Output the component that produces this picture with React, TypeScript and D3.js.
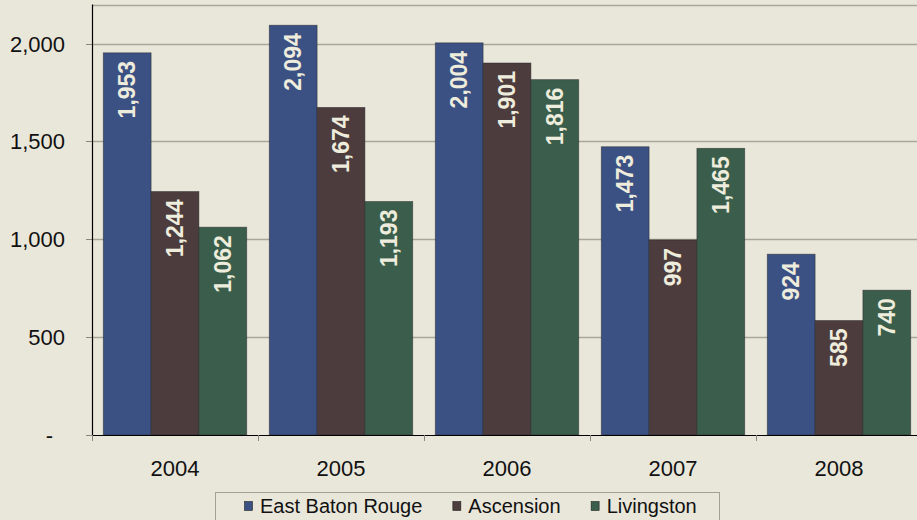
import React, { useRef, useEffect } from 'react';
import { select, scaleBand, scaleLinear, format } from 'd3';

const years = ['2004', '2005', '2006', '2007', '2008'];
const seriesNames = ['East Baton Rouge', 'Ascension', 'Livingston'];
const eastBatonRouge = [1953, 2094, 2004, 1473, 924];
const ascension = [1244, 1674, 1901, 997, 585];
const livingston = [1062, 1193, 1816, 1465, 740];
const yTicks = [0, 500, 1000, 1500, 2000];
const colors = ['#3c5183', '#4c3c3d', '#3a5e4b'];

const W = 917;
const H = 520;
const BG = '#e9e7da';
const FONT = "'Liberation Sans', Arial, sans-serif";

function App() {
  const svgRef = useRef(null);

  useEffect(() => {
    const svg = select(svgRef.current);
    svg.selectAll('*').remove();

    const left = 92;
    const top = 4.5;
    const bottom = 435;
    const catW = 166;

    const x0 = scaleBand()
      .domain(years)
      .range([left, left + catW * years.length])
      .padding(0);
    const x1 = scaleBand()
      .domain(seriesNames)
      .range([0, x0.bandwidth()])
      .paddingInner(0)
      .paddingOuter(0.236);
    const y = scaleLinear().domain([0, 2200]).range([bottom, top]);

    svg.append('rect').attr('width', W).attr('height', H).attr('fill', BG);

    // gridlines + top border
    svg
      .selectAll('.grid')
      .data(yTicks.filter((d) => d > 0).concat([2200]))
      .join('line')
      .attr('x1', left)
      .attr('x2', W)
      .attr('y1', (d) => Math.round(y(d)) + 0.5)
      .attr('y2', (d) => Math.round(y(d)) + 0.5)
      .attr('stroke', '#a8a698')
      .attr('stroke-width', 1.3);

    // y ticks
    svg
      .selectAll('.ytick')
      .data(yTicks)
      .join('line')
      .attr('x1', left - 6)
      .attr('x2', left)
      .attr('y1', (d) => Math.round(y(d)) + 0.5)
      .attr('y2', (d) => Math.round(y(d)) + 0.5)
      .attr('stroke', '#8a887e');

    svg
      .selectAll('.ylabel')
      .data(yTicks)
      .join('text')
      .attr('x', (d) => (d === 0 ? 53 : 65))
      .attr('y', (d) => y(d))
      .attr('dy', '0.36em')
      .attr('text-anchor', 'end')
      .style('font-family', FONT)
      .attr('font-size', 22)
      .attr('fill', '#111')
      .text((d) => (d === 0 ? '-' : format(',')(d)));

    const series = [eastBatonRouge, ascension, livingston];

    // bars
    const groups = svg
      .selectAll('.year')
      .data(years)
      .join('g')
      .attr('transform', (d) => `translate(${x0(d)},0)`);

    groups
      .selectAll('rect')
      .data((yr, i) => seriesNames.map((s, k) => ({ s, k, v: series[k][i] })))
      .join('rect')
      .attr('x', (d) => x1(d.s))
      .attr('y', (d) => y(d.v))
      .attr('width', x1.bandwidth())
      .attr('height', (d) => bottom - y(d.v))
      .attr('fill', (d) => colors[d.k])
      .attr('stroke', '#26262a')
      .attr('stroke-opacity', 0.6)
      .attr('stroke-width', 0.8);

    groups
      .selectAll('text')
      .data((yr, i) => seriesNames.map((s, k) => ({ s, k, v: series[k][i] })))
      .join('text')
      .attr('transform', (d) => {
        const cx = x1(d.s) + x1.bandwidth() / 2;
        const ty = y(d.v) + 8;
        return `translate(${cx},${ty}) rotate(-90)`;
      })
      .attr('text-anchor', 'end')
      .attr('dominant-baseline', 'central')
      .style('font-family', FONT)
      .attr('font-weight', 'bold')
      .attr('font-size', 23)
      .attr('fill', '#eeecdc')
      .text((d) => format(',')(d.v));

    // axes
    svg
      .append('line')
      .attr('x1', left + 0.5)
      .attr('x2', left + 0.5)
      .attr('y1', top)
      .attr('y2', bottom)
      .attr('stroke', '#000')
      .attr('stroke-width', 1.2);
    svg
      .append('line')
      .attr('x1', left)
      .attr('x2', W)
      .attr('y1', bottom + 0.5)
      .attr('y2', bottom + 0.5)
      .attr('stroke', '#000')
      .attr('stroke-width', 1.2);

    // x ticks at category boundaries
    svg
      .selectAll('.xtick')
      .data(years)
      .join('line')
      .attr('x1', (d) => Math.round(x0(d)) + 0.5)
      .attr('x2', (d) => Math.round(x0(d)) + 0.5)
      .attr('y1', bottom)
      .attr('y2', bottom + 6)
      .attr('stroke', '#8a887e');

    svg
      .selectAll('.xlabel')
      .data(years)
      .join('text')
      .attr('x', (d) => x0(d) + x0.bandwidth() / 2)
      .attr('y', 476)
      .attr('text-anchor', 'middle')
      .style('font-family', FONT)
      .attr('font-size', 22)
      .attr('fill', '#111')
      .text((d) => d);

    // legend
    const legend = svg.append('g');
    legend
      .append('rect')
      .attr('x', 215.5)
      .attr('y', 492.5)
      .attr('width', 504)
      .attr('height', 40)
      .attr('fill', BG)
      .attr('stroke', '#a3a196');

    let lx = 244;
    seriesNames.forEach((name, k) => {
      legend
        .append('rect')
        .attr('x', lx + 0.5)
        .attr('y', 501.5)
        .attr('width', 8)
        .attr('height', 9)
        .attr('fill', colors[k])
        .attr('stroke', '#222')
        .attr('stroke-width', 0.6);
      const t = legend
        .append('text')
        .attr('x', lx + 16)
        .attr('y', 513)
        .style('font-family', FONT)
        .attr('font-size', 20)
        .attr('fill', '#111')
        .text(name);
      const w = t.node().getComputedTextLength();
      lx = lx + 16 + w + 30;
    });
  }, []);

  return (
    <svg
      ref={svgRef}
      width={W}
      height={H}
      style={{ position: 'absolute', left: 0, top: 0, display: 'block' }}
    />
  );
}

export default App;
